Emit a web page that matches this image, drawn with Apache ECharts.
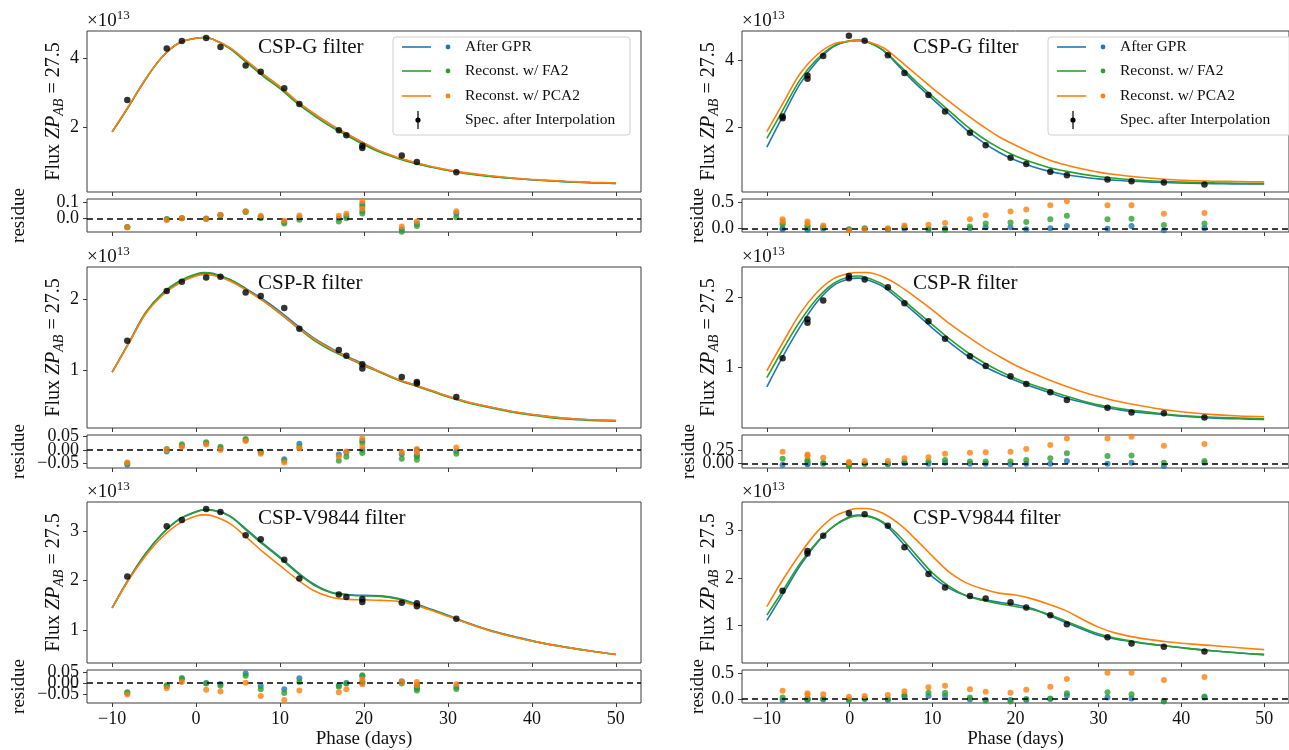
<!DOCTYPE html>
<html><head><meta charset="utf-8">
<script src="https://cdn.jsdelivr.net/npm/echarts@6/dist/echarts.min.js"></script>
<style>html,body{margin:0;padding:0;background:#fff}#c{width:1289px;height:750px}</style>
</head><body><div id="c"></div><script>
// ---------------- DATA ----------------
const curvePhase = [-10,-8,-6,-4,-2,0,1,2,4,6,8,10,12,14,16,18,20,22,24,26,28,30,32,35,38,41,44,47,50];
const xTicks = [-10,0,10,20,30,40,50];
const legendLabels = ['After GPR','Reconst. w/ FA2','Reconst. w/ PCA2','Spec. after Interpolation'];
const titles = ['CSP-G filter','CSP-R filter','CSP-V9844 filter'];

// Left column, CSP-G
const gLeftBlue   = [1.87,2.62,3.4,4.05,4.45,4.58,4.6,4.55,4.3,3.92,3.53,3.17,2.75,2.4,2.08,1.8,1.54,1.3,1.12,0.98,0.86,0.76,0.68,0.59,0.52,0.47,0.43,0.4,0.38];
const gLeftGreen  = [1.87,2.62,3.4,4.05,4.45,4.58,4.6,4.55,4.28,3.88,3.48,3.12,2.7,2.35,2.03,1.76,1.5,1.27,1.1,0.96,0.85,0.75,0.67,0.58,0.52,0.47,0.43,0.4,0.38];
const gLeftOrange = [1.88,2.63,3.41,4.05,4.45,4.58,4.6,4.55,4.31,3.93,3.54,3.18,2.76,2.41,2.09,1.81,1.55,1.31,1.13,0.99,0.87,0.77,0.69,0.6,0.53,0.48,0.44,0.41,0.39];
const gLeftPhase  = [-8.2,-3.5,-1.7,1.2,2.9,5.9,7.7,10.5,12.3,17.0,17.9,19.8,19.8,24.5,26.3,31.0];
const gLeftFlux   = [2.79,4.28,4.50,4.59,4.33,3.79,3.61,3.13,2.68,1.92,1.77,1.47,1.40,1.19,1.0,0.70];
const gLeftResBlue   = [-0.055,-0.008,0.0,-0.002,0.02,0.042,0.008,-0.024,0.005,-0.002,0.015,0.09,0.045,-0.068,-0.035,0.03];
const gLeftResGreen  = [-0.056,-0.005,0.0,-0.004,0.018,0.04,0.0,-0.033,-0.009,-0.02,0.0,0.075,0.03,-0.084,-0.049,0.007];
const gLeftResOrange = [-0.056,-0.011,0.0,-0.004,0.022,0.044,0.016,-0.016,0.018,0.016,0.029,0.107,0.06,-0.051,-0.02,0.044];

// Left column, CSP-R
const rLeftBlue   = [0.97,1.38,1.8,2.06,2.23,2.33,2.36,2.35,2.27,2.14,1.99,1.82,1.63,1.45,1.31,1.19,1.08,0.97,0.87,0.79,0.71,0.63,0.56,0.48,0.41,0.36,0.32,0.3,0.29];
const rLeftGreen  = [0.97,1.39,1.81,2.08,2.25,2.35,2.37,2.36,2.27,2.13,1.97,1.79,1.6,1.42,1.28,1.17,1.06,0.96,0.86,0.78,0.7,0.62,0.55,0.47,0.4,0.35,0.31,0.29,0.28];
const rLeftOrange = [0.97,1.38,1.79,2.05,2.22,2.32,2.34,2.33,2.25,2.12,1.97,1.8,1.61,1.44,1.3,1.18,1.07,0.97,0.87,0.79,0.71,0.63,0.56,0.48,0.41,0.36,0.32,0.3,0.29];
const rLeftPhase  = [-8.2,-3.5,-1.7,1.2,2.9,5.9,7.7,10.5,12.3,17.0,17.9,19.8,19.8,24.5,26.3,26.3,31.0];
const rLeftFlux   = [1.41,2.11,2.24,2.30,2.31,2.09,2.04,1.87,1.58,1.28,1.20,1.08,1.02,0.90,0.83,0.81,0.62];
const rLeftResBlue   = [-0.056,-0.006,0.016,0.025,0.006,0.037,-0.01,-0.035,0.023,-0.017,-0.01,0.034,0.0,-0.015,0.0,-0.02,-0.005];
const rLeftResGreen  = [-0.05,0.003,0.021,0.029,0.012,0.041,-0.006,-0.041,0.012,-0.041,-0.026,0.026,-0.012,-0.033,-0.025,-0.037,-0.014];
const rLeftResOrange = [-0.047,0.0,0.012,0.02,0.0,0.033,-0.014,-0.047,0.006,-0.026,-0.006,0.044,0.012,-0.008,0.003,-0.01,0.009];

// Left column, CSP-V9844
const vLeftBlue   = [1.45,2.04,2.55,2.95,3.24,3.39,3.43,3.42,3.3,3.03,2.74,2.47,2.18,1.93,1.77,1.72,1.7,1.69,1.64,1.54,1.42,1.3,1.17,1.0,0.87,0.75,0.66,0.58,0.51];
const vLeftGreen  = [1.45,2.03,2.54,2.94,3.23,3.38,3.42,3.41,3.29,3.01,2.72,2.45,2.16,1.91,1.76,1.71,1.69,1.68,1.63,1.53,1.41,1.29,1.16,0.99,0.86,0.75,0.66,0.58,0.51];
const vLeftOrange = [1.45,2.02,2.5,2.88,3.15,3.3,3.32,3.3,3.15,2.87,2.57,2.3,2.03,1.8,1.67,1.62,1.61,1.6,1.58,1.51,1.4,1.28,1.16,0.99,0.86,0.75,0.66,0.58,0.51];
const vLeftPhase  = [-8.2,-3.5,-1.7,1.2,2.9,5.9,7.7,10.5,12.3,17.0,17.9,19.8,19.8,24.5,26.3,26.3,31.0];
const vLeftFlux   = [2.08,3.09,3.22,3.44,3.38,2.91,2.83,2.42,2.04,1.72,1.67,1.63,1.57,1.55,1.54,1.48,1.23];
const vLeftResBlue   = [-0.045,-0.015,0.018,0.0,-0.005,0.042,-0.014,-0.028,0.021,-0.012,0.0,0.03,0.0,0.007,-0.01,-0.025,-0.018];
const vLeftResGreen  = [-0.042,-0.01,0.022,-0.003,-0.013,0.032,-0.028,-0.045,0.004,-0.017,-0.003,0.035,0.004,-0.003,-0.02,-0.034,-0.027];
const vLeftResOrange = [-0.052,-0.024,0.004,-0.031,-0.038,0.001,-0.059,-0.077,-0.034,-0.042,-0.028,0.017,-0.006,0.004,0.004,-0.01,-0.006];

// Right column, CSP-G
const gRightBlue   = [1.42,2.38,3.3,3.95,4.4,4.58,4.6,4.57,4.3,3.8,3.3,2.85,2.4,1.95,1.58,1.27,1.03,0.85,0.71,0.61,0.54,0.48,0.44,0.4,0.37,0.35,0.34,0.33,0.33];
const gRightGreen  = [1.68,2.55,3.42,4.02,4.42,4.57,4.58,4.55,4.3,3.85,3.37,2.93,2.5,2.07,1.7,1.4,1.16,0.97,0.82,0.71,0.62,0.55,0.5,0.44,0.4,0.38,0.36,0.35,0.34];
const gRightOrange = [1.88,2.75,3.6,4.15,4.48,4.57,4.58,4.56,4.38,4.0,3.58,3.17,2.78,2.4,2.05,1.73,1.48,1.25,1.05,0.9,0.78,0.68,0.61,0.53,0.47,0.43,0.41,0.4,0.39];
const gRightPhase  = [-8.1,-8.1,-5.1,-5.1,-3.2,-0.1,1.8,4.6,6.6,9.5,11.5,14.5,16.4,19.4,21.3,24.2,26.2,31.1,34.0,37.9,42.8];
const gRightFlux   = [2.33,2.28,3.55,3.45,4.13,4.73,4.58,4.15,3.62,2.97,2.48,1.85,1.48,1.11,0.92,0.69,0.59,0.46,0.41,0.37,0.31];
const gRightResBlue   = [-0.01,0.0,-0.02,-0.01,0.0,-0.01,0.0,-0.01,0.0,-0.02,0.0,0.01,0.03,0.03,-0.01,0.01,0.05,0.0,0.05,-0.03,0.01];
const gRightResGreen  = [0.11,0.08,0.06,0.04,0.03,-0.02,0.01,-0.005,0.03,0.0,-0.02,0.045,0.1,0.12,0.13,0.18,0.25,0.18,0.19,0.07,0.1];
const gRightResOrange = [0.18,0.14,0.14,0.1,0.06,-0.03,-0.01,0.01,0.06,0.075,0.11,0.18,0.26,0.33,0.37,0.45,0.53,0.45,0.45,0.29,0.3];

// Right column, CSP-R
const rRightBlue   = [0.72,1.17,1.58,1.93,2.17,2.27,2.28,2.26,2.16,1.97,1.77,1.56,1.36,1.18,1.03,0.91,0.81,0.72,0.64,0.56,0.5,0.44,0.4,0.35,0.32,0.29,0.27,0.26,0.25];
const rRightGreen  = [0.85,1.27,1.66,1.98,2.2,2.3,2.31,2.29,2.19,2.01,1.81,1.61,1.41,1.23,1.08,0.95,0.84,0.75,0.67,0.59,0.52,0.46,0.42,0.37,0.33,0.3,0.28,0.27,0.26];
const rRightOrange = [0.95,1.37,1.77,2.07,2.27,2.35,2.36,2.36,2.3,2.17,2.0,1.82,1.63,1.46,1.3,1.16,1.03,0.92,0.82,0.73,0.65,0.58,0.52,0.45,0.39,0.35,0.32,0.3,0.29];
const rRightPhase  = [-8.1,-5.1,-5.1,-3.2,-0.1,-0.1,1.8,4.6,6.6,9.5,11.5,14.5,16.4,19.4,21.3,24.2,26.2,31.1,34.0,37.9,42.8];
const rRightFlux   = [1.13,1.69,1.64,1.96,2.31,2.28,2.26,2.15,1.92,1.66,1.41,1.16,1.02,0.87,0.76,0.64,0.53,0.42,0.35,0.34,0.28];
const rRightResBlue   = [-0.02,-0.01,0.0,0.0,-0.02,-0.01,0.0,-0.01,0.01,0.0,0.02,0.0,0.0,-0.01,0.0,0.0,0.05,0.0,0.02,-0.04,0.02];
const rRightResGreen  = [0.09,0.07,0.04,0.02,-0.04,-0.02,0.0,0.0,0.03,0.04,0.07,0.04,0.04,0.04,0.07,0.1,0.19,0.14,0.15,0.02,0.05];
const rRightResOrange = [0.22,0.17,0.14,0.11,0.03,0.02,0.05,0.05,0.1,0.12,0.18,0.2,0.21,0.22,0.27,0.34,0.46,0.46,0.49,0.33,0.36];

// Right column, CSP-V9844
const vRightBlue   = [1.11,1.68,2.25,2.72,3.07,3.28,3.31,3.3,3.15,2.8,2.4,2.02,1.78,1.63,1.55,1.49,1.44,1.36,1.22,1.07,0.93,0.8,0.72,0.64,0.58,0.52,0.47,0.43,0.4];
const vRightGreen  = [1.22,1.75,2.3,2.74,3.07,3.26,3.3,3.29,3.17,2.87,2.48,2.1,1.82,1.63,1.53,1.46,1.4,1.34,1.24,1.1,0.96,0.83,0.74,0.65,0.58,0.52,0.47,0.43,0.39];
const vRightOrange = [1.4,1.98,2.5,2.95,3.27,3.42,3.45,3.45,3.35,3.12,2.8,2.45,2.12,1.9,1.77,1.68,1.64,1.56,1.45,1.32,1.14,0.97,0.85,0.74,0.67,0.62,0.58,0.54,0.5];
const vRightPhase  = [-8.1,-5.1,-5.1,-3.2,-0.1,1.8,4.6,6.6,9.5,11.5,14.5,16.4,19.4,21.3,24.2,26.2,31.1,34.0,37.9,42.8];
const vRightFlux   = [1.73,2.56,2.51,2.88,3.35,3.33,3.09,2.64,2.08,1.8,1.62,1.57,1.49,1.38,1.22,1.03,0.76,0.63,0.56,0.46];
const vRightResBlue   = [-0.02,-0.02,-0.01,-0.01,-0.02,0.0,-0.02,0.05,0.06,0.06,-0.01,-0.02,-0.02,-0.02,0.0,0.07,0.03,0.01,-0.05,0.03];
const vRightResGreen  = [0.03,0.01,0.0,0.01,-0.01,0.01,0.0,0.08,0.12,0.12,0.03,-0.03,-0.05,0.0,0.01,0.11,0.13,0.09,-0.04,0.05];
const vRightResOrange = [0.16,0.11,0.08,0.09,0.045,0.06,0.08,0.15,0.23,0.26,0.19,0.14,0.12,0.18,0.24,0.39,0.51,0.51,0.37,0.43];

// tick labels
const yTicksG = [2,4], yTicksR = [1,2], yTicksV = [1,2,3];
const resTicksSmall = [0,0.1], resTicksTiny = [-0.05,0,0.05], resTicksHalf = [0,0.5], resTicksQuarter = [0,0.25];

// ---------------- LAYOUT / STYLE ----------------
const FONT = '"Liberation Serif","DejaVu Serif",serif';
const TXT = '#111';
const FRAME = '#3c3c3c';
const C = {blue:'#1f77b4', green:'#2ca02c', orange:'#ff7f0e'};
const LEFTS = [87, 742], W = 554;
const MAIN_TOPS = [31, 267, 502], MAIN_H = 161;
const RES_TOPS = [199, 435, 670], RES_H = 33;

const panels = [
  {col:0,row:0,curves:[gLeftBlue,gLeftGreen,gLeftOrange],phase:gLeftPhase,flux:gLeftFlux,res:[gLeftResBlue,gLeftResGreen,gLeftResOrange],yr:[0.13,4.79],yt:yTicksG,rr:[-0.086,0.121],rt:resTicksSmall,dec:1},
  {col:0,row:1,curves:[rLeftBlue,rLeftGreen,rLeftOrange],phase:rLeftPhase,flux:rLeftFlux,res:[rLeftResBlue,rLeftResGreen,rLeftResOrange],yr:[0.184,2.447],yt:yTicksR,rr:[-0.068,0.056],rt:resTicksTiny,dec:2},
  {col:0,row:2,curves:[vLeftBlue,vLeftGreen,vLeftOrange],phase:vLeftPhase,flux:vLeftFlux,res:[vLeftResBlue,vLeftResGreen,vLeftResOrange],yr:[0.34,3.58],yt:yTicksV,rr:[-0.09,0.058],rt:resTicksTiny,dec:2},
  {col:1,row:0,curves:[gRightBlue,gRightGreen,gRightOrange],phase:gRightPhase,flux:gRightFlux,res:[gRightResBlue,gRightResGreen,gRightResOrange],yr:[0.09,4.87],yt:yTicksG,rr:[-0.063,0.571],rt:resTicksHalf,dec:1},
  {col:1,row:1,curves:[rRightBlue,rRightGreen,rRightOrange],phase:rRightPhase,flux:rRightFlux,res:[rRightResBlue,rRightResGreen,rRightResOrange],yr:[0.128,2.44],yt:yTicksR,rr:[-0.078,0.524],rt:resTicksQuarter,dec:2},
  {col:1,row:2,curves:[vRightBlue,vRightGreen,vRightOrange],phase:vRightPhase,flux:vRightFlux,res:[vRightResBlue,vRightResGreen,vRightResOrange],yr:[0.22,3.585],yt:yTicksV,rr:[-0.078,0.564],rt:resTicksHalf,dec:1}
];

const minus = s => String(s).replace('-', '\u2212');
const zip = (xs, ys) => xs.map((x, i) => [x, ys[i]]);
const baseText = {fontFamily: FONT, color: TXT, fontSize: 17};

const grids = [], xAxes = [], yAxes = [], series = [];
panels.forEach((p) => {
  const left = LEFTS[p.col];
  const gi = grids.length;
  [[MAIN_TOPS[p.row], MAIN_H], [RES_TOPS[p.row], RES_H]].forEach(([top, h]) => {
    grids.push({left, top, width: W, height: h, show: true, borderColor: FRAME, borderWidth: 1, backgroundColor: 'transparent'});
  });
  [gi, gi + 1].forEach((g, j) => {
    const lab = (j === 1 && p.row === 2);
    xAxes.push({
      type: 'value', gridIndex: g, min: -13, max: 53, position: 'bottom',
      axisLine: {show: false, onZero: false}, splitLine: {show: false},
      axisTick: {show: true, customValues: xTicks, length: 4, lineStyle: {color: FRAME}},
      axisLabel: {show: lab, customValues: xTicks, formatter: v => minus(v), margin: 7, showMinLabel: true, showMaxLabel: true, ...baseText, fontSize: 18},
      name: lab ? 'Phase (days)' : '', nameLocation: 'middle', nameGap: 27,
      nameTextStyle: {...baseText, fontSize: 19}
    });
  });
  // main y
  const yMainIdx = yAxes.length;
  yAxes.push({
    type: 'value', gridIndex: gi, min: p.yr[0], max: p.yr[1], position: 'left',
    axisLine: {show: false, onZero: false}, splitLine: {show: false},
    axisTick: {show: true, customValues: p.yt, length: 4, lineStyle: {color: FRAME}},
    axisLabel: {customValues: p.yt, formatter: v => String(v), margin: 8, showMinLabel: true, showMaxLabel: true, ...baseText, fontSize: 18},
    name: '{n|Flux }{i|ZP}{s|AB}{n| = 27.5}', nameLocation: 'middle', nameGap: p.col === 0 ? 18 : 16,
    nameTextStyle: {rich: {
      n: {fontFamily: FONT, color: TXT, fontSize: 20, lineHeight: 24, verticalAlign: 'middle'},
      i: {fontFamily: FONT, color: TXT, fontSize: 20, fontStyle: 'italic', lineHeight: 24, verticalAlign: 'middle'},
      s: {fontFamily: FONT, color: TXT, fontSize: 14, fontStyle: 'italic', lineHeight: 24, verticalAlign: 'bottom'}
    }}
  });
  // residue y: labels split over two overlapping axes so close labels are all kept
  const yResIdx = yAxes.length;
  const evenTicks = p.rt.filter((_, i) => i % 2 === 0);
  const oddTicks = p.rt.filter((_, i) => i % 2 === 1);
  const resLabel = ticks => ({customValues: ticks, formatter: v => minus(v.toFixed(p.dec)), margin: 8, showMinLabel: true, showMaxLabel: true, hideOverlap: false, ...baseText, fontSize: 18});
  yAxes.push({
    type: 'value', gridIndex: gi + 1, min: p.rr[0], max: p.rr[1], position: 'left',
    axisLine: {show: false, onZero: false}, splitLine: {show: false},
    axisTick: {show: true, customValues: p.rt, length: 4, lineStyle: {color: FRAME}},
    axisLabel: resLabel(evenTicks),
    name: 'residue', nameLocation: 'middle', nameGap: p.col === 0 ? 58 : 18,
    nameTextStyle: {...baseText, fontSize: 19}
  });
  yAxes.push({
    type: 'value', gridIndex: gi + 1, min: p.rr[0], max: p.rr[1], position: 'left', offset: 0,
    axisLine: {show: false, onZero: false}, splitLine: {show: false},
    axisTick: {show: false},
    axisLabel: resLabel(oddTicks)
  });
  // curves
  ['blue', 'green', 'orange'].forEach((c, j) => {
    series.push({type: 'line', xAxisIndex: gi, yAxisIndex: yMainIdx, data: zip(curvePhase, p.curves[j]),
      smooth: 0.35, showSymbol: false, lineStyle: {color: C[c], width: 1.6}, itemStyle: {color: C[c]}, z: 2 + j, silent: true});
  });
  series.push({type: 'scatter', xAxisIndex: gi, yAxisIndex: yMainIdx, data: zip(p.phase, p.flux),
    symbolSize: 6.5, itemStyle: {color: '#000'}, z: 6, silent: true});
  ['blue', 'green', 'orange'].forEach((c, j) => {
    const s = {type: 'scatter', xAxisIndex: gi + 1, yAxisIndex: yResIdx, data: zip(p.phase, p.res[j]),
      symbolSize: 6, itemStyle: {color: C[c]}, z: 3 + j, silent: true};
    if (j === 0) s.markLine = {silent: true, symbol: 'none', label: {show: false}, animation: false,
      lineStyle: {color: '#000', type: [6, 4], width: 1.5}, data: [{yAxis: 0}]};
    series.push(s);
  });
});

// graphics: titles, x10^13, legends
const graphics = [];
panels.forEach(p => {
  const left = LEFTS[p.col];
  graphics.push({type: 'text', x: left + 171, y: MAIN_TOPS[p.row] + 16, style: {text: titles[p.row], fontFamily: FONT, fontSize: 21, fill: TXT, align: 'left', verticalAlign: 'middle'}});
  graphics.push({type: 'text', x: left, y: MAIN_TOPS[p.row] - 11, style: {text: '{a|\u00d710}{s|13}', rich: {
    a: {fontFamily: FONT, fontSize: 19, fill: TXT, lineHeight: 22, verticalAlign: 'bottom'},
    s: {fontFamily: FONT, fontSize: 13, fill: TXT, lineHeight: 22, verticalAlign: 'top'}}, align: 'left', verticalAlign: 'middle'}});
});
function legend(x0, w) {
  const ys = [47, 71, 96, 120];
  const ch = [{type: 'rect', shape: {x: x0, y: 37, width: w, height: 98, r: 3}, style: {fill: 'rgba(255,255,255,0.85)', stroke: '#cfcfcf', lineWidth: 1}}];
  ['blue', 'green', 'orange'].forEach((c, i) => {
    ch.push({type: 'line', shape: {x1: x0 + 9, y1: ys[i], x2: x0 + 38, y2: ys[i]}, style: {stroke: C[c], lineWidth: 1.6}});
    ch.push({type: 'circle', shape: {cx: x0 + 55, cy: ys[i], r: 2.4}, style: {fill: C[c]}});
  });
  ch.push({type: 'line', shape: {x1: x0 + 25, y1: ys[3] - 9, x2: x0 + 25, y2: ys[3] + 9}, style: {stroke: '#000', lineWidth: 1.2}});
  ch.push({type: 'circle', shape: {cx: x0 + 25, cy: ys[3], r: 2.6}, style: {fill: '#000'}});
  legendLabels.forEach((t, i) => ch.push({type: 'text', x: x0 + 72, y: ys[i], style: {text: t, fontFamily: FONT, fontSize: 15.5, fill: TXT, align: 'left', verticalAlign: 'middle'}}));
  return {type: 'group', z: 50, children: ch};
}
graphics.push(legend(393, 237));
graphics.push(legend(1048, 248));

const chart = echarts.init(document.getElementById('c'));
chart.setOption({
  animation: false,
  backgroundColor: '#fff',
  grid: grids, xAxis: xAxes, yAxis: yAxes, series: series,
  graphic: graphics
});
</script></body></html>
